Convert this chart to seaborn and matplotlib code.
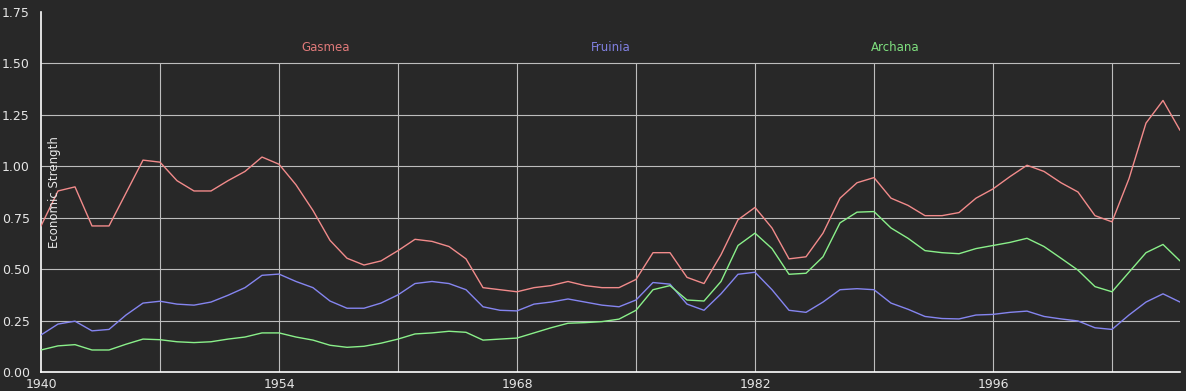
import seaborn as sns
import pandas as pd
import matplotlib
matplotlib.use("Agg")
import matplotlib.pyplot as plt
import matplotlib.transforms as mtransforms

years = list(range(1940, 2008))

gasmea = [0.71, 0.88, 0.90, 0.71, 0.71, 0.87, 1.03, 1.02, 0.93, 0.88,
          0.88, 0.93, 0.975, 1.045, 1.01, 0.91, 0.785, 0.64, 0.553, 0.52,
          0.54, 0.59, 0.645, 0.635, 0.61, 0.55, 0.41, 0.40, 0.39, 0.41,
          0.42, 0.44, 0.42, 0.41, 0.41, 0.45, 0.58, 0.58, 0.46, 0.43,
          0.57, 0.74, 0.80, 0.70, 0.55, 0.56, 0.675, 0.845, 0.92, 0.945,
          0.845, 0.81, 0.76, 0.76, 0.775, 0.845, 0.89, 0.95, 1.005, 0.975,
          0.92, 0.875, 0.76, 0.73, 0.94, 1.21, 1.32, 1.175]

fruinia = [0.18, 0.233, 0.247, 0.20, 0.207, 0.277, 0.335, 0.344, 0.33, 0.325,
           0.34, 0.373, 0.41, 0.47, 0.476, 0.44, 0.41, 0.345, 0.31, 0.31,
           0.335, 0.375, 0.43, 0.44, 0.43, 0.40, 0.317, 0.30, 0.297, 0.33,
           0.34, 0.355, 0.34, 0.325, 0.317, 0.35, 0.435, 0.427, 0.33, 0.30,
           0.38, 0.475, 0.485, 0.40, 0.30, 0.29, 0.34, 0.40, 0.405, 0.40,
           0.335, 0.305, 0.27, 0.26, 0.258, 0.277, 0.28, 0.29, 0.296, 0.27,
           0.258, 0.248, 0.215, 0.207, 0.277, 0.34, 0.38, 0.34]

archana = [0.107, 0.127, 0.133, 0.107, 0.107, 0.135, 0.16, 0.157, 0.147, 0.143,
           0.147, 0.16, 0.17, 0.19, 0.19, 0.17, 0.155, 0.13, 0.12, 0.125,
           0.14, 0.16, 0.185, 0.19, 0.198, 0.193, 0.155, 0.16, 0.165, 0.19,
           0.215, 0.237, 0.24, 0.245, 0.257, 0.30, 0.40, 0.42, 0.35, 0.345,
           0.44, 0.615, 0.675, 0.60, 0.475, 0.48, 0.56, 0.725, 0.777, 0.78,
           0.70, 0.65, 0.59, 0.58, 0.575, 0.60, 0.615, 0.63, 0.65, 0.61,
           0.553, 0.495, 0.415, 0.39, 0.485, 0.58, 0.62, 0.54]

names = ["Gasmea", "Fruinia", "Archana"]
line_colors = ["#f28b8b", "#8585f0", "#8af08a"]
label_colors = ["#e07a7a", "#8080e0", "#7fe07f"]

x_labels = [1940, 1954, 1968, 1982, 1996]
x_grid = list(range(1947, 2008, 7))
y_ticks = [0.0, 0.25, 0.5, 0.75, 1.0, 1.25, 1.5, 1.75]

df = pd.DataFrame({
    "year": years * 3,
    "value": gasmea + fruinia + archana,
    "country": sum([[n] * len(years) for n in names], []),
})

bg = "#282828"
sns.set_theme(style="dark", rc={"axes.facecolor": bg, "figure.facecolor": bg})
plt.rcParams["font.family"] = ["DejaVu Sans"]

fig = plt.figure(figsize=(11.86, 3.91), dpi=100)
ax = fig.add_axes([41 / 1186, 1 - 372 / 391, (1180 - 41) / 1186, 360 / 391])

# grid drawn by hand: vertical lines stop at 1.5
ax.hlines(y_ticks[1:-1], 1940, 2007, color="#bdbdbd", lw=0.8, zorder=1)
ax.vlines(x_grid, 0, 1.5, color="#bdbdbd", lw=0.8, zorder=1)

sns.lineplot(data=df, x="year", y="value", hue="country", hue_order=names,
             palette=line_colors, linewidth=1.0, legend=False, ax=ax, zorder=3)

ax.set_xlim(1940, 2007)
ax.set_ylim(0, 1.75)
ax.set_xticks(x_labels)
ax.set_xticklabels([str(v) for v in x_labels])
ax.set_yticks(y_ticks)
ax.set_yticklabels([f"{v:.2f}" for v in y_ticks])
ax.tick_params(colors="#e6e6e6", labelsize=9, length=0)
ax.tick_params(axis="y", pad=8)
ax.tick_params(axis="x", pad=4)
ax.set_xlabel("")
ax.set_ylabel("")

for s in ["top", "right"]:
    ax.spines[s].set_visible(False)
for s in ["left", "bottom"]:
    ax.spines[s].set_color("white")
    ax.spines[s].set_linewidth(1.2)

# series names across the top, in place of a legend
trans = mtransforms.blended_transform_factory(ax.transAxes, ax.transData)
for i, (n, c) in enumerate(zip(names, label_colors)):
    ax.text(0.25 * (i + 1), 1.578, n, color=c, fontsize=8.5, ha="center",
            va="center", transform=trans, zorder=4)

ax.text(0.006, 0.5, "Economic Strength", rotation=90, color="#e6e6e6",
        fontsize=8.5, ha="left", va="center", transform=ax.transAxes)

fig.savefig("out.png", dpi=100, facecolor=bg)
